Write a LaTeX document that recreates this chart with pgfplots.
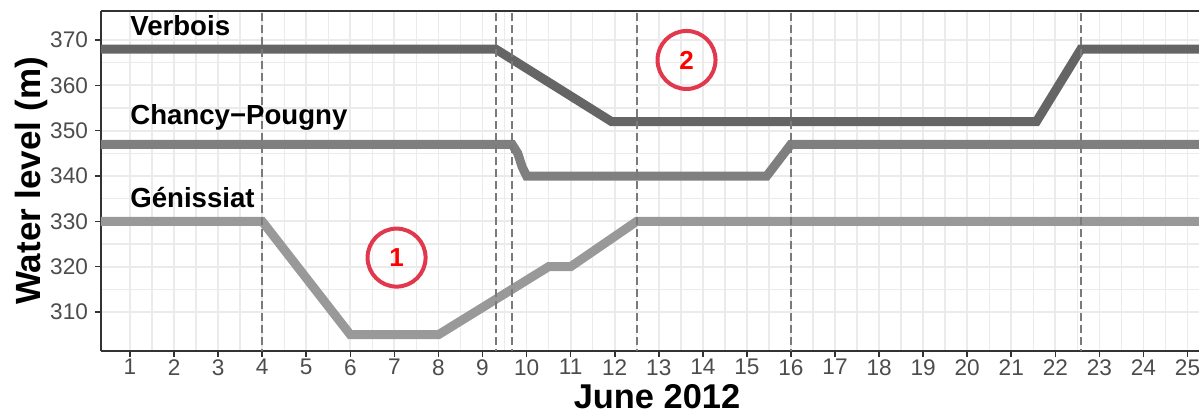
\documentclass[border=0pt]{standalone}
\usepackage{pgfplots}
\pgfplotsset{compat=1.18}
\usepackage{fontspec}
\setmainfont{Liberation Sans}

\definecolor{verbois}{HTML}{656565}
\definecolor{chancy}{HTML}{7F7F7F}
\definecolor{geniss}{HTML}{999999}
\definecolor{ringred}{HTML}{E2384E}
\definecolor{gridgray}{HTML}{EBEBEB}
\definecolor{dashgray}{HTML}{7A7A7A}

\begin{document}
\begin{tikzpicture}
\useasboundingbox (-50.5bp,-32bp) rectangle (549bp,175.5bp);
\begin{axis}[
    scale only axis,
    width=549bp,
    height=170bp,
    xmin=0.342, xmax=25.26,
    ymin=301.4, ymax=376.4,
    xtick={1,...,25},
    ytick={310,320,...,370},
    minor x tick num=1,
    minor y tick num=1,
    grid=both,
    major grid style={draw=gridgray, line width=0.9bp},
    minor grid style={draw=gridgray, line width=0.7bp},
    axis lines*=left,
    axis line style={draw=black!80, line width=0.9bp},
    tick align=outside,
    major tick length=3bp,
    minor tick length=0pt,
    tick style={draw=black!80, line width=0.8bp},
    ticklabel style={font=\fontsize{11.3bp}{13bp}\selectfont, text=black!70},
    xticklabel style={inner sep=1bp},
    /pgf/number format/assume math mode=true,
    xlabel={June 2012},
    ylabel={Water level (m)},
    xlabel style={font=\fontsize{17.2bp}{20bp}\selectfont\bfseries,
        at={(axis description cs:0.5,0)}, anchor=base, yshift=-28.8bp, xshift=3.5bp,
        inner sep=0pt},
    ylabel style={font=\fontsize{17.5bp}{20bp}\selectfont\bfseries,
        at={(axis description cs:-0.0783,0.5)}, anchor=north, inner sep=0pt},
    clip=true,
]

% Verbois
\addplot[verbois, line width=4.5bp] coordinates {
    (0,368) (9.3,368) (11.93,352) (21.57,352) (22.58,368) (26,368)};

% Chancy-Pougny
\addplot[chancy, line width=4.5bp] coordinates {
    (0,347) (9.67,347) (9.8,345) (9.9,342) (10.0,340) (15.45,340) (16,347) (26,347)};

% Genissiat
\addplot[geniss, line width=4.5bp] coordinates {
    (0,330) (4,330) (6,305) (8,305) (10.5,320) (11,320) (12.5,330) (26,330)};

% vertical event lines
\addplot[dashgray, line width=0.8bp, dash pattern=on 4bp off 2bp] coordinates {(4,300) (4,380)};
\addplot[dashgray, line width=0.8bp, dash pattern=on 4bp off 2bp] coordinates {(9.3,300) (9.3,380)};
\addplot[dashgray, line width=0.8bp, dash pattern=on 4bp off 2bp] coordinates {(9.67,300) (9.67,380)};
\addplot[dashgray, line width=0.8bp, dash pattern=on 4bp off 2bp] coordinates {(12.5,300) (12.5,380)};
\addplot[dashgray, line width=0.8bp, dash pattern=on 4bp off 2bp] coordinates {(16,300) (16,380)};
\addplot[dashgray, line width=0.8bp, dash pattern=on 4bp off 2bp] coordinates {(22.58,300) (22.58,380)};

% station names
\node[anchor=base west, inner sep=0pt, font=\fontsize{13.8bp}{15bp}\selectfont\bfseries] at (axis cs:1,371.1) {Verbois};
\node[anchor=base west, inner sep=0pt, font=\fontsize{13.8bp}{15bp}\selectfont\bfseries] at (axis cs:1,351.3) {Chancy−Pougny};
\node[anchor=base west, inner sep=0pt, font=\fontsize{13.8bp}{15bp}\selectfont\bfseries] at (axis cs:1,333.0) {Génissiat};

% numbered rings
\node[circle, draw=ringred, line width=2bp, minimum size=29bp, inner sep=0pt,
      text=red, font=\fontsize{13bp}{13bp}\selectfont\bfseries] at (axis cs:7.05,322.0) {1};
\node[circle, draw=ringred, line width=2bp, minimum size=29bp, inner sep=0pt,
      text=red, font=\fontsize{13bp}{13bp}\selectfont\bfseries] at (axis cs:13.63,365.6) {2};
\end{axis}
\draw[black!80, line width=0.9bp] (current axis.north west) -- (current axis.north east);
\end{tikzpicture}
\end{document}
